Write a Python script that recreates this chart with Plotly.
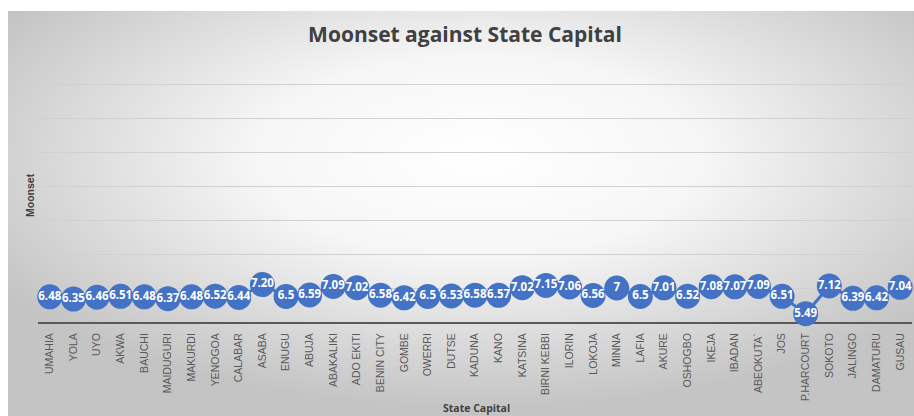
import base64
import plotly.graph_objects as go

# State capitals and their moonset readings (as recorded, h.mm)
capitals = [
    "UMAHIA", "YOLA", "UYO", "AKWA", "BAUCHI", "MAIDUGURI", "MAKURDI", "YENOGOA",
    "CALABAR", "ASABA", "ENUGU", "ABUJA", "ABAKALIKI", "ADO EKITI", "BENIN CITY",
    "GOMBE", "OWERRI", "DUTSE", "KADUNA", "KANO", "KATSINA", "BIRNI KEBBI", "ILORIN",
    "LOKOJA", "MINNA", "LAFIA", "AKURE", "OSHOGBO", "IKEJA", "IBADAN", "ABEOKUTA`",
    "JOS", "P.HARCOURT", "SOKOTO", "JALINGO", "DAMATURU", "GUSAU",
]
moonset_text = [
    "6.48", "6.35", "6.46", "6.51", "6.48", "6.37", "6.48", "6.52",
    "6.44", "7.20", "6.5", "6.59", "7.09", "7.02", "6.58",
    "6.42", "6.5", "6.53", "6.58", "6.57", "7.02", "7.15", "7.06",
    "6.56", "7", "6.5", "7.01", "6.52", "7.08", "7.07", "7.09",
    "6.51", "5.49", "7.12", "6.39", "6.42", "7.04",
]
moonset = [float(s) for s in moonset_text]

# Value axis settings (small headroom so the top gridline is drawn)
y_min, y_max, y_step = 5, 19.06, 2

W, H = 914, 416
ML, MR, MT, MB = 38, 2, 83, 94
PW, PH = W - ML - MR, H - MT - MB

BLUE = "#4472C4"

# Radial grey-to-white chart-area fill as an inline SVG
svg = (
    '<svg xmlns="http://www.w3.org/2000/svg" width="906" height="405" '
    'preserveAspectRatio="none" viewBox="0 0 906 405">'
    '<defs><radialGradient id="g" cx="52%" cy="36%" r="62%">'
    '<stop offset="0" stop-color="#ffffff"/>'
    '<stop offset="0.4" stop-color="#f6f6f6"/>'
    '<stop offset="1" stop-color="#c4c4c4"/>'
    '</radialGradient></defs>'
    '<rect x="0" y="0" width="906" height="405" fill="url(#g)"/></svg>'
)
bg_src = "data:image/svg+xml;base64," + base64.b64encode(svg.encode()).decode()

fig = go.Figure()
fig.add_trace(
    go.Scatter(
        x=capitals,
        y=moonset,
        mode="lines+markers+text",
        text=moonset_text,
        textposition="middle center",
        textfont=dict(family="Open Sans", size=11.5, color="white", weight="bold"),
        line=dict(color=BLUE, width=3),
        marker=dict(size=23, color=BLUE, line=dict(color=BLUE, width=2)),
        cliponaxis=False,
        hoverinfo="x+y",
        showlegend=False,
    )
)

bx0, by0 = 8, 11  # chart-area corner in pixels
fig.add_layout_image(
    dict(
        source=bg_src,
        xref="paper", yref="paper",
        x=(bx0 - ML) / PW, y=1 + (MT - by0) / PH,
        sizex=(W - bx0) / PW, sizey=(H - by0) / PH,
        xanchor="left", yanchor="top",
        sizing="stretch", layer="below",
    )
)

fig.update_layout(
    width=W, height=H,
    margin=dict(l=ML, r=MR, t=MT, b=MB, autoexpand=False),
    paper_bgcolor="white",
    plot_bgcolor="rgba(0,0,0,0)",
    title=dict(
        text="Moonset against State Capital",
        x=465 / W, xref="container", xanchor="center",
        y=1 - 35 / H, yref="container", yanchor="middle",
        font=dict(family="Open Sans", size=21, color="#404040", weight="bold"),
    ),
    xaxis=dict(
        type="category",
        range=[-0.5, len(capitals) - 0.5],
        tickangle=-90,
        tickfont=dict(family="Liberation Sans", size=10.5, color="#595959"),
        showgrid=False,
        showline=True, linecolor="#595959", linewidth=2,
        ticks="", ticklabelstandoff=5,
        layer="below traces",
    ),
    yaxis=dict(
        range=[y_min, y_max],
        tick0=y_min, dtick=y_step,
        showticklabels=False,
        showgrid=True, gridcolor="#d0d0d0", gridwidth=1,
        zeroline=False, showline=False,
        layer="below traces",
    ),
    annotations=[
        dict(
            text="State Capital", xref="paper", yref="paper",
            x=(476 - ML) / PW, y=-(408 - (H - MB)) / PH,
            xanchor="center", yanchor="middle", showarrow=False,
            font=dict(family="Open Sans", size=10.5, color="#404040", weight="bold"),
        ),
        dict(
            text="Moonset", xref="paper", yref="paper",
            x=(30 - ML) / PW, y=1 - (195 - MT) / PH,
            xanchor="center", yanchor="middle", showarrow=False, textangle=-90,
            font=dict(family="Liberation Sans", size=10.5, color="#404040", weight="bold"),
        ),
    ],
)

fig.write_html("out.html")
